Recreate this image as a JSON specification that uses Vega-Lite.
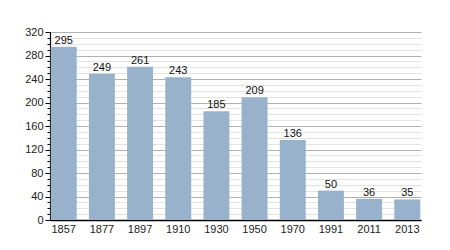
{
  "$schema": "https://vega.github.io/schema/vega-lite/v6.json",
  "width": 371,
  "height": 188,
  "autosize": "none",
  "padding": {"left": 50, "top": 32, "right": 29, "bottom": 30},
  "background": "white",
  "config": {"view": {"stroke": null}, "font": "Liberation Sans"},
  "data": {"values": [
    {"year": "1857", "pop": 295},
    {"year": "1877", "pop": 249},
    {"year": "1897", "pop": 261},
    {"year": "1910", "pop": 243},
    {"year": "1930", "pop": 185},
    {"year": "1950", "pop": 209},
    {"year": "1970", "pop": 136},
    {"year": "1991", "pop": 50},
    {"year": "2011", "pop": 36},
    {"year": "2013", "pop": 35}
  ]},
  "encoding": {
    "x": {"field": "year", "type": "ordinal", "sort": null,
      "scale": {"paddingInner": 0.32, "paddingOuter": 0.02},
      "axis": {"title": null, "labelAngle": 0, "ticks": false, "domainColor": "#000", "domainWidth": 1.5,
        "labelFontSize": 11, "labelColor": "#222", "labelPadding": 3}},
    "y": {"field": "pop", "type": "quantitative",
      "scale": {"domain": [0, 320], "nice": false},
      "axis": {"title": null, "values": [0,10,20,30,40,50,60,70,80,90,100,110,120,130,140,150,160,170,180,190,200,210,220,230,240,250,260,270,280,290,300,310,320],
        "labelExpr": "datum.value % 40 === 0 ? datum.label : ''",
        "gridColor": {"condition": {"test": "datum.value % 40 === 0", "value": "#b0b0b0"}, "value": "#e2e2e2"},
        "tickSize": {"condition": {"test": "datum.value % 40 === 0", "value": 5}, "value": 3},
        "tickColor": "#000", "domainColor": "#000", "domainWidth": 1.2,
        "labelFontSize": 11, "labelColor": "#222", "labelPadding": 2}}
  },
  "layer": [
    {"mark": {"type": "bar", "color": "#98b2cc"}},
    {"mark": {"type": "text", "dy": -6, "fontSize": 11, "color": "#111"},
     "encoding": {"text": {"field": "pop", "type": "quantitative"}}}
  ]
}
